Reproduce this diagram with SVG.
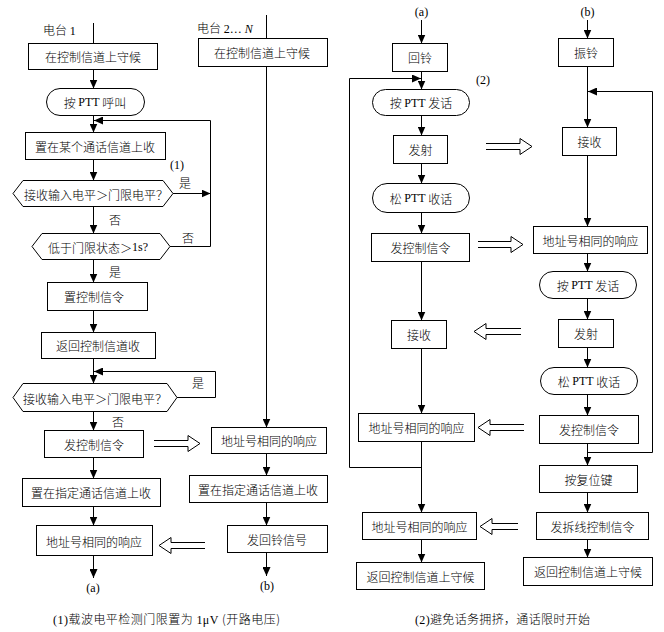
<svg xmlns="http://www.w3.org/2000/svg" width="664" height="632" viewBox="0 0 664 632">
<defs>
<marker id="ah" markerUnits="userSpaceOnUse" markerWidth="9" markerHeight="8" refX="9" refY="4" orient="auto"><path d="M0,0 L9,4 L0,8 z" fill="#000"/></marker>
<style>
.b{fill:#fff;stroke:#000;stroke-width:1}
.l{fill:none;stroke:#000;stroke-width:1}
.a{fill:none;stroke:#000;stroke-width:1;marker-end:url(#ah)}
.d{fill:#fff;stroke:#000;stroke-width:1}
text{font-family:"Noto Sans CJK SC","Liberation Sans",sans-serif;font-size:12px;font-weight:300;fill:#000}
.c{text-anchor:middle;dominant-baseline:central}
.s{font-family:"Liberation Serif",serif;font-weight:400}
</style>
</defs>
<rect width="664" height="632" fill="#fff"/>

<g id="connectors">
<!-- left column -->
<line class="l" x1="93.5" y1="23" x2="93.5" y2="43.5"/>
<line class="a" x1="93.5" y1="69.5" x2="93.5" y2="88.5"/>
<line class="a" x1="93.5" y1="115.5" x2="93.5" y2="132.5"/>
<line class="a" x1="93.5" y1="159.5" x2="93.5" y2="180.5"/>
<line class="a" x1="173" y1="193.5" x2="210.5" y2="193.5"/>
<polyline class="a" points="170,246.5 210.5,246.5 210.5,120.5 94,120.5"/>
<line class="a" x1="93.5" y1="206.5" x2="93.5" y2="233.5"/>
<line class="a" x1="93.5" y1="259.5" x2="93.5" y2="282.5"/>
<line class="a" x1="93.5" y1="310.5" x2="93.5" y2="332.5"/>
<line class="a" x1="93.5" y1="358.5" x2="93.5" y2="383.5"/>
<polyline class="a" points="177,397.5 215.5,397.5 215.5,371.5 94,371.5"/>
<line class="a" x1="93.5" y1="411.5" x2="93.5" y2="430.5"/>
<line class="a" x1="93.5" y1="457.5" x2="93.5" y2="478.5"/>
<line class="a" x1="93.5" y1="506.5" x2="93.5" y2="525.5"/>
<line class="a" x1="93.5" y1="555.5" x2="93.5" y2="578"/>
<!-- middle column -->
<line class="l" x1="266.5" y1="15" x2="266.5" y2="38.5"/>
<line class="a" x1="266.5" y1="66.5" x2="266.5" y2="427.5"/>
<line class="a" x1="266.5" y1="453.5" x2="266.5" y2="475.5"/>
<line class="a" x1="266.5" y1="502.5" x2="266.5" y2="525.5"/>
<line class="a" x1="266.5" y1="552.5" x2="266.5" y2="576"/>
<!-- right-left column -->
<line class="a" x1="421.5" y1="20" x2="421.5" y2="43.5"/>
<line class="a" x1="421.5" y1="71.5" x2="421.5" y2="89.5"/>
<polyline class="a" points="421.5,467.5 349.5,467.5 349.5,78.5 421,78.5"/>
<line class="a" x1="421.5" y1="115.5" x2="421.5" y2="135.5"/>
<line class="a" x1="421.5" y1="163.5" x2="421.5" y2="183.5"/>
<line class="a" x1="421.5" y1="212.5" x2="421.5" y2="233.5"/>
<line class="a" x1="421.5" y1="261.5" x2="421.5" y2="320.5"/>
<line class="a" x1="421.5" y1="348.5" x2="421.5" y2="413.5"/>
<line class="a" x1="421.5" y1="441.5" x2="421.5" y2="512.5"/>
<line class="a" x1="421.5" y1="539.5" x2="421.5" y2="562.5"/>
<!-- right-right column -->
<line class="a" x1="587.5" y1="20" x2="587.5" y2="38.5"/>
<line class="a" x1="587.5" y1="66.5" x2="587.5" y2="127.5"/>
<polyline class="a" points="587.5,452.5 652.5,452.5 652.5,91.5 588,91.5"/>
<line class="a" x1="587.5" y1="155.5" x2="587.5" y2="226.5"/>
<line class="a" x1="587.5" y1="253.5" x2="587.5" y2="271.5"/>
<line class="a" x1="587.5" y1="298.5" x2="587.5" y2="319.5"/>
<line class="a" x1="587.5" y1="347.5" x2="587.5" y2="367.5"/>
<line class="a" x1="587.5" y1="394.5" x2="587.5" y2="415.5"/>
<line class="a" x1="587.5" y1="443.5" x2="587.5" y2="465.5"/>
<line class="a" x1="587.5" y1="492.5" x2="587.5" y2="512.5"/>
<line class="a" x1="587.5" y1="539.5" x2="587.5" y2="557.5"/>
<!-- hollow double arrows -->
<path class="d" d="M154,440.5 H188 V435.5 L200,443.5 L188,451.5 V446.5 H154"/>
<path class="d" d="M205,542.5 H171 V537.5 L159,545.5 L171,553.5 V548.5 H205"/>
<path class="d" d="M486,143.5 H520 V138.5 L532,146.5 L520,154.5 V149.5 H486"/>
<path class="d" d="M478,241.5 H511 V236.5 L523,244.5 L511,252.5 V247.5 H478"/>
<path class="d" d="M521,328.5 H486 V323.5 L474,331.5 L486,339.5 V334.5 H521"/>
<path class="d" d="M524,424.5 H490 V419.5 L478,427.5 L490,435.5 V430.5 H524"/>
<path class="d" d="M518,523.5 H492 V518.5 L480,526.5 L492,534.5 V529.5 H518"/>
<!-- branch labels -->
<text x="170" y="169"><tspan class="s">(1)</tspan></text>
<text x="179" y="188">是</text>
<text x="109" y="225">否</text>
<text x="182" y="243">否</text>
<text x="109" y="277">是</text>
<text x="192" y="388">是</text>
<text x="112" y="427">否</text>
<text x="476" y="84"><tspan class="s">(2)</tspan></text>
</g>

<!-- Station labels -->
<g id="label-st1"><text x="43" y="35">电台 <tspan class="s">1</tspan></text></g>
<g id="label-st2"><text x="197" y="33">电台 <tspan class="s">2… <tspan font-style="italic">N</tspan></tspan></text></g>

<!-- Left column nodes -->
<g id="L1"><rect class="b" x="28.5" y="43.5" width="129" height="26"/><text class="c" x="93" y="56.5">在控制信道上守候</text></g>
<g id="L2"><rect class="b" x="46.5" y="88.5" width="98" height="27" rx="13.5"/><text class="c" x="95" y="102">按 <tspan class="s">PTT</tspan> 呼叫</text></g>
<g id="L3"><rect class="b" x="25.5" y="132.5" width="140" height="27"/><text class="c" x="95" y="146">置在某个通话信道上收</text></g>
<g id="L4"><polygon class="b" points="13,193.5 23,180.5 163,180.5 173,193.5 163,206.5 23,206.5"/><text class="c" x="96" y="194">接收输入电平＞门限电平？</text></g>
<g id="L5"><polygon class="b" points="32,246.5 42,233.5 160,233.5 170,246.5 160,259.5 42,259.5"/><text class="c" x="98" y="247">低于门限状态＞<tspan class="s">1s?</tspan></text></g>
<g id="L6"><rect class="b" x="47.5" y="282.5" width="100" height="28"/><text class="c" x="94" y="296.5">置控制信令</text></g>
<g id="L7"><rect class="b" x="41.5" y="332.5" width="114" height="26"/><text class="c" x="98" y="345.5">返回控制信道收</text></g>
<g id="L8"><polygon class="b" points="13,397.5 23,383.5 167,383.5 177,397.5 167,411.5 23,411.5"/><text class="c" x="95" y="398">接收输入电平＞门限电平？</text></g>
<g id="L9"><rect class="b" x="44.5" y="430.5" width="99" height="27"/><text class="c" x="94" y="444">发控制信令</text></g>
<g id="L10"><rect class="b" x="22.5" y="478.5" width="138" height="28"/><text class="c" x="91" y="492.5">置在指定通话信道上收</text></g>
<g id="L11"><rect class="b" x="36.5" y="525.5" width="116" height="30"/><text class="c" x="94" y="541">地址号相同的响应</text></g>
<g id="La"><text class="c s" x="93" y="588">(a)</text></g>

<!-- Middle column nodes -->
<g id="M1"><rect class="b" x="198.5" y="38.5" width="129" height="28"/><text class="c" x="262" y="52.5">在控制信道上守候</text></g>
<g id="M2"><rect class="b" x="211.5" y="427.5" width="115" height="26"/><text class="c" x="269" y="440.5">地址号相同的响应</text></g>
<g id="M3"><rect class="b" x="189.5" y="475.5" width="138" height="27"/><text class="c" x="258" y="489">置在指定通话信道上收</text></g>
<g id="M4"><rect class="b" x="227.5" y="525.5" width="100" height="27"/><text class="c" x="277" y="539">发回铃信号</text></g>
<g id="Mb"><text class="c s" x="267" y="586">(b)</text></g>

<!-- Right-left column nodes -->
<g id="Ra"><text class="c s" x="421.5" y="12">(a)</text></g>
<g id="R1"><rect class="b" x="392.5" y="43.5" width="55" height="28"/><text class="c" x="420" y="57.5">回铃</text></g>
<g id="R2"><rect class="b" x="372.5" y="89.5" width="97" height="26" rx="13"/><text class="c" x="421" y="102.5">按 <tspan class="s">PTT</tspan> 发话</text></g>
<g id="R3"><rect class="b" x="393.5" y="135.5" width="54" height="28"/><text class="c" x="420.5" y="149.5">发射</text></g>
<g id="R4"><rect class="b" x="372.5" y="183.5" width="97" height="29" rx="14.5"/><text class="c" x="421" y="198">松 <tspan class="s">PTT</tspan> 收话</text></g>
<g id="R5"><rect class="b" x="371.5" y="233.5" width="98" height="28"/><text class="c" x="420.5" y="247.5">发控制信令</text></g>
<g id="R6"><rect class="b" x="391.5" y="320.5" width="55" height="28"/><text class="c" x="419" y="334.5">接收</text></g>
<g id="R7"><rect class="b" x="358.5" y="413.5" width="116" height="28"/><text class="c" x="416.5" y="427.5">地址号相同的响应</text></g>
<g id="R8"><rect class="b" x="362.5" y="512.5" width="114" height="27"/><text class="c" x="419.5" y="526">地址号相同的响应</text></g>
<g id="R9"><rect class="b" x="356.5" y="562.5" width="128" height="27"/><text class="c" x="420.5" y="576">返回控制信道上守候</text></g>

<!-- Right-right column nodes -->
<g id="Sb"><text class="c s" x="587.5" y="12">(b)</text></g>
<g id="S1"><rect class="b" x="558.5" y="38.5" width="55" height="28"/><text class="c" x="586" y="52.5">振铃</text></g>
<g id="S2"><rect class="b" x="562.5" y="127.5" width="54" height="28"/><text class="c" x="589.5" y="141.5">接收</text></g>
<g id="S3"><rect class="b" x="533.5" y="226.5" width="114" height="27"/><text class="c" x="590.5" y="240">地址号相同的响应</text></g>
<g id="S4"><rect class="b" x="539.5" y="271.5" width="97" height="27" rx="13.5"/><text class="c" x="588" y="285">按 <tspan class="s">PTT</tspan> 发话</text></g>
<g id="S5"><rect class="b" x="558.5" y="319.5" width="55" height="28"/><text class="c" x="586" y="333.5">发射</text></g>
<g id="S6"><rect class="b" x="540.5" y="367.5" width="97" height="27" rx="13.5"/><text class="c" x="589" y="381">松 <tspan class="s">PTT</tspan> 收话</text></g>
<g id="S7"><rect class="b" x="539.5" y="415.5" width="99" height="28"/><text class="c" x="589" y="429.5">发控制信令</text></g>
<g id="S8"><rect class="b" x="539.5" y="465.5" width="98" height="27"/><text class="c" x="588.5" y="479">按复位键</text></g>
<g id="S9"><rect class="b" x="536.5" y="512.5" width="112" height="27"/><text class="c" x="592.5" y="526">发拆线控制信令</text></g>
<g id="S10"><rect class="b" x="523.5" y="557.5" width="129" height="28"/><text class="c" x="588" y="571.5">返回控制信道上守候</text></g>

<!-- captions -->
<g id="cap1"><text x="53" y="624" textLength="227" lengthAdjust="spacing"><tspan class="s">(1)</tspan>载波电平检测门限置为 <tspan class="s">1μV</tspan> (开路电压)</text></g>
<g id="cap2"><text x="415" y="624" textLength="175" lengthAdjust="spacing"><tspan class="s">(2)</tspan>避免话务拥挤，通话限时开始</text></g>
</svg>
